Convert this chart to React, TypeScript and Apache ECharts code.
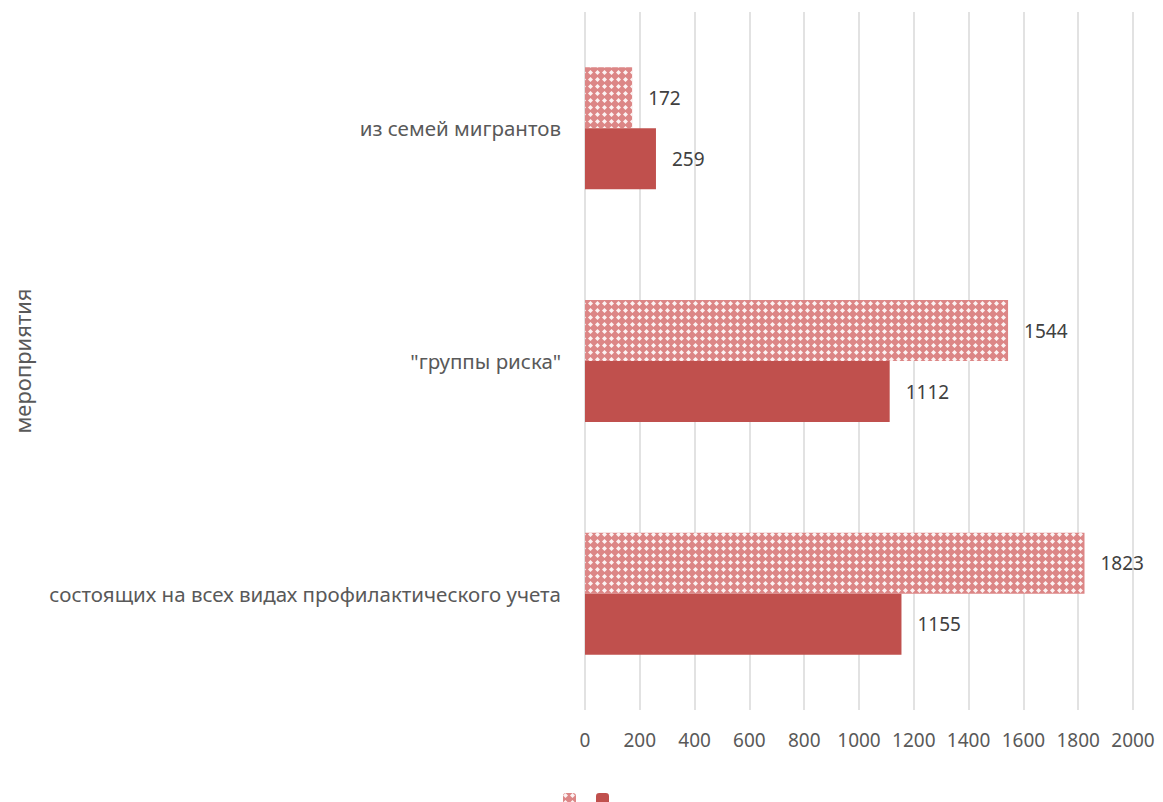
import React, { useEffect, useRef } from "react";
import * as echarts from "echarts";

const categories = [
  "состоящих на всех видах профилактического учета",
  "\"группы риска\"",
  "из семей мигрантов",
];
const solidValues = [1155, 1112, 259];
const patternValues = [1823, 1544, 172];
const xTicks = [0, 2000, 200];
const axisTitle = "мероприятия";

export default function App() {
  const ref = useRef<HTMLDivElement>(null);
  useEffect(() => {
    const chart = echarts.init(ref.current!, null, { renderer: "svg" });
    const font = "Noto Sans";
    const labelStyle = {
      show: true,
      position: "right",
      distance: 16,
      color: "#404040",
      fontSize: 19,
      fontFamily: font,
    };
    chart.setOption({
      animation: false,
      textStyle: { fontFamily: font },
      grid: { left: 585, right: 30, top: 12, bottom: 92 },
      legend: {
        left: 558,
        top: 788,
        itemWidth: 13,
        itemHeight: 13,
        itemGap: 20,
        data: ["p", "s"],
        formatter: () => "",
        textStyle: { fontSize: 1 },
      },
      graphic: [
        {
          type: "text",
          x: 22,
          y: 361,
          rotation: Math.PI / 2,
          style: {
            text: axisTitle,
            fontSize: 22,
            fontFamily: font,
            fill: "#595959",
            align: "center",
            verticalAlign: "middle",
          },
        },
      ],
      xAxis: {
        type: "value",
        min: xTicks[0],
        max: xTicks[1],
        interval: xTicks[2],
        axisLine: { show: false },
        axisTick: { show: false },
        splitLine: { lineStyle: { color: "#d9d9d9", width: 1.5 } },
        axisLabel: {
          color: "#595959",
          fontSize: 19,
          margin: 20,
          fontFamily: font,
          formatter: (v: number) => String(v),
        },
      },
      yAxis: {
        type: "category",
        data: categories,
        axisLine: { show: false },
        axisTick: { show: false },
        axisLabel: { color: "#595959", fontSize: 20.5, margin: 24, fontFamily: font },
      },
      series: [
        {
          name: "p",
          type: "bar",
          data: patternValues,
          barWidth: 61,
          barGap: "0%",
          itemStyle: {
            color: "#dc8686",
            decal: {
              color: "rgba(255,255,255,0.9)",
              symbol: "diamond",
              symbolSize: 1,
              dashArrayX: [5, 2],
              dashArrayY: [5, 2],
              rotation: 0,
            },
          },
          label: labelStyle,
        },
        {
          name: "s",
          type: "bar",
          data: solidValues,
          barWidth: 61,
          barGap: "0%",
          itemStyle: { color: "#c0504d" },
          label: labelStyle,
        },
      ],
    });
    return () => chart.dispose();
  }, []);
  return (
    <div
      ref={ref}
      style={{ position: "fixed", left: 0, top: 0, width: 1163, height: 802, background: "#fff" }}
    />
  );
}
